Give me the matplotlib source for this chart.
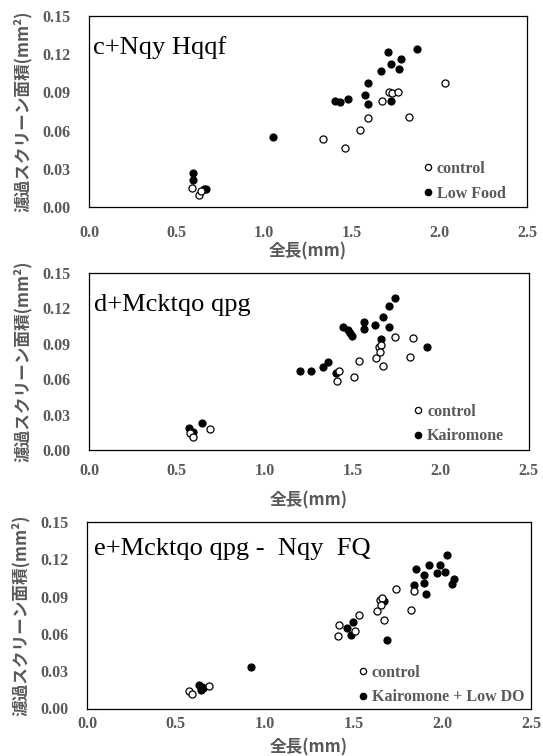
import matplotlib
matplotlib.use("Agg")
import matplotlib.pyplot as plt
from matplotlib.lines import Line2D

# ---------------- data ----------------
titles = ["c+Nqy Hqqf", "d+Mcktqo qpg", "e+Mcktqo qpg -  Nqy  FQ"]
treat_labels = ["Low Food", "Kairomone", "Kairomone + Low DO"]
control_label = "control"
x_label = "全長(mm)"
y_label = "濾過スクリーン面積(mm²)"
x_ticks = [0.0, 0.5, 1.0, 1.5, 2.0, 2.5]
y_ticks = [0.00, 0.03, 0.06, 0.09, 0.12, 0.15]

ctrl1_x = [0.587, 0.628, 0.642, 1.337, 1.464, 1.544, 1.592, 1.670, 1.711, 1.731, 1.765, 1.829, 2.030]
ctrl1_y = [0.0152, 0.0094, 0.0126, 0.0534, 0.0463, 0.0602, 0.0702, 0.0833, 0.0903, 0.0893, 0.0903, 0.0709, 0.0970]
low1_x = [0.591, 0.591, 0.657, 0.668, 1.050, 1.403, 1.430, 1.476, 1.577, 1.595, 1.594, 1.666, 1.705, 1.726, 1.721, 1.770, 1.782, 1.871]
low1_y = [0.0265, 0.0212, 0.0139, 0.0141, 0.0552, 0.0833, 0.0822, 0.0850, 0.0880, 0.0971, 0.0810, 0.1070, 0.1220, 0.1123, 0.0833, 0.1080, 0.1160, 0.1240]

ctrl2_x = [0.574, 0.590, 0.688, 1.412, 1.420, 1.507, 1.533, 1.632, 1.650, 1.662, 1.658, 1.671, 1.740, 1.844, 1.825]
ctrl2_y = [0.0141, 0.0113, 0.0178, 0.0585, 0.0672, 0.0621, 0.0754, 0.0782, 0.0876, 0.0890, 0.0833, 0.0712, 0.0960, 0.0947, 0.0790]
kai2_x = [0.570, 0.593, 0.641, 1.200, 1.262, 1.332, 1.360, 1.406, 1.446, 1.474, 1.484, 1.495, 1.567, 1.563, 1.626, 1.662, 1.671, 1.706, 1.706, 1.740, 1.923]
kai2_y = [0.0184, 0.0150, 0.0231, 0.0669, 0.0669, 0.0706, 0.0748, 0.0650, 0.1040, 0.1017, 0.0994, 0.0969, 0.1087, 0.1025, 0.1060, 0.0938, 0.1130, 0.1220, 0.1040, 0.1290, 0.0873]

ctrl3_x = ctrl2_x
ctrl3_y = ctrl2_y
kld3_x = [0.633, 0.645, 0.640, 0.655, 0.925, 1.465, 1.497, 1.488, 1.675, 1.688, 1.844, 1.854, 1.897, 1.900, 1.906, 1.925, 1.972, 1.989, 2.017, 2.028, 2.054, 2.069]
kld3_y = [0.0193, 0.0175, 0.0147, 0.0165, 0.0335, 0.0649, 0.0697, 0.0590, 0.0866, 0.0550, 0.0993, 0.1119, 0.1073, 0.1011, 0.0920, 0.1153, 0.1092, 0.1153, 0.1100, 0.1234, 0.1001, 0.1038]

panels = [(ctrl1_x, ctrl1_y, low1_x, low1_y),
          (ctrl2_x, ctrl2_y, kai2_x, kai2_y),
          (ctrl3_x, ctrl3_y, kld3_x, kld3_y)]

# ---------------- layout ----------------
W, H = 543, 756
fig = plt.figure(figsize=(W / 100, H / 100), dpi=100)

# (left, top, right, bottom) in pixels
boxes = [(89, 16, 527, 207), (89, 273, 528.5, 450), (87, 522, 531, 708.5)]
legend_anchor = [(0.764, 0.241), (0.740, 0.262), (0.612, 0.235)]
title_pos = [(0.010, 0.80), (0.012, 0.785), (0.015, 0.823)]
xtick_pad = [12.7, 9.4, 5.4]
xlabel_pad = [1.2, 8.6, 4.8]

grey = "#595959"
serif = "Liberation Serif"
cjk = ["Noto Sans CJK JP", "DejaVu Sans"]

for i, (cx, cy, tx, ty) in enumerate(panels):
    l, t, r, b = boxes[i]
    ax = fig.add_axes([l / W, 1 - b / H, (r - l) / W, (b - t) / H])
    ax.scatter(tx, ty, s=26, facecolor="black", edgecolor="black", linewidths=0.8, zorder=3)
    ax.scatter(cx, cy, s=26, facecolor="white", edgecolor="black", linewidths=0.9, zorder=4)
    ax.set_xlim(0, 2.5)
    ax.set_ylim(0, 0.15)
    ax.set_xticks(x_ticks)
    ax.set_yticks(y_ticks)
    ax.set_xticklabels([f"{v:.1f}" for v in x_ticks])
    ax.set_yticklabels([f"{v:.2f}" for v in y_ticks])
    for lab in ax.get_xticklabels() + ax.get_yticklabels():
        lab.set_fontfamily(serif)
        lab.set_fontweight("bold")
        lab.set_fontsize(11.5)
        lab.set_color(grey)
    ax.tick_params(axis="both", length=0)
    ax.tick_params(axis="y", pad=13.5)
    ax.tick_params(axis="x", pad=xtick_pad[i])
    for s in ax.spines.values():
        s.set_color("black")
        s.set_linewidth(0.9)
    ax.set_xlabel(x_label, family=cjk, fontweight="bold", fontsize=12, color=grey,
                  labelpad=xlabel_pad[i])
    ax.set_ylabel(y_label, family=cjk, fontweight="bold", fontsize=12, color=grey, labelpad=7.5)
    ax.text(title_pos[i][0], title_pos[i][1], titles[i], transform=ax.transAxes, family=serif,
            fontsize=19, color="black", va="baseline", ha="left")
    handles = [Line2D([], [], marker="o", linestyle="none", markersize=4.5,
                      markerfacecolor="white", markeredgecolor="black", markeredgewidth=0.9),
               Line2D([], [], marker="o", linestyle="none", markersize=4.5,
                      markerfacecolor="black", markeredgecolor="black")]
    leg = ax.legend(handles, [control_label, treat_labels[i]], loc="upper left",
                    bbox_to_anchor=legend_anchor[i], frameon=False, handlelength=0.5,
                    handletextpad=0.31, labelspacing=0.55, borderpad=0, borderaxespad=0,
                    prop={"family": serif, "weight": "bold", "size": 11.5})
    for txt in leg.get_texts():
        txt.set_color(grey)

fig.savefig("out.png", dpi=100)
